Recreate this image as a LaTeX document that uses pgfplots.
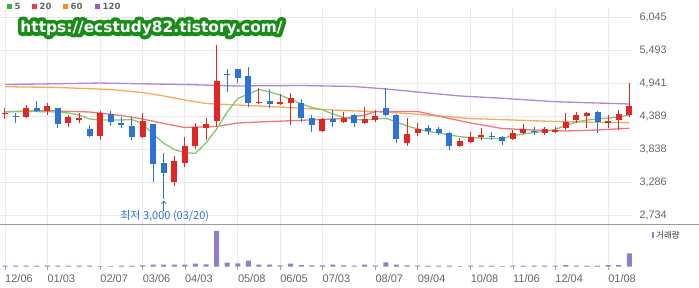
\documentclass[border=0pt]{standalone}
\usepackage{fontspec}
\setmainfont{Liberation Sans}
\newfontfamily\kr{Noto Sans CJK KR}
\newfontfamily\djv{DejaVu Sans}
\newfontfamily\wmfat{DejaVu Sans Bold}[FakeBold=50]
\newfontfamily\wmfont{DejaVu Sans Bold}
\usepackage{pgfplots}
\usepackage{pgfplotstable}
\pgfplotsset{compat=1.18}
\usetikzlibrary{arrows.meta,calc}

\definecolor{cup}{RGB}{226,38,38}
\definecolor{cdn}{RGB}{45,115,215}
\definecolor{ma5}{RGB}{130,200,110}
\definecolor{ma20}{RGB}{240,120,120}
\definecolor{ma60}{RGB}{247,170,90}
\definecolor{ma120}{RGB}{175,135,215}
\definecolor{vol}{RGB}{145,125,200}
\definecolor{gridc}{RGB}{234,234,234}
\definecolor{lbl}{RGB}{100,100,100}
\definecolor{wmg}{RGB}{25,140,25}
\definecolor{l5}{RGB}{60,176,67}
\definecolor{l20}{RGB}{232,64,64}
\definecolor{l60}{RGB}{240,144,30}
\definecolor{l120}{RGB}{155,89,208}

\pgfplotstableread{
i o h l c
0 4417 4523 4339 4444
2 4368 4573 4351 4528
4 4478 4602 4406 4557
6 4267 4406 4210 4378
7 4322 4434 4277 4361
9 4055 4478 3988 4444
13 4033 4434 4016 4311
16 3291 3720 3219 3642
17 3608 4043 3542 3888
18 3888 4277 3832 4200
19 4184 4351 3988 4256
20 4306 5576 4210 4980
24 4602 4852 4590 4628
26 4585 4757 4573 4615
27 4602 4769 4239 4695
30 4144 4351 4127 4339
32 4294 4461 4267 4361
34 4267 4545 4256 4334
35 4322 4490 4294 4389
38 3943 4351 3888 4088
39 4100 4267 4055 4167
43 3888 4016 3876 3971
44 3950 4127 3933 4043
45 4033 4184 3988 4072
48 4005 4155 3988 4110
49 4100 4256 4088 4167
51 4100 4210 4072 4167
52 4122 4210 4100 4155
53 4184 4434 4155 4294
54 4322 4461 4267 4406
55 4394 4450 4184 4444
57 4277 4406 4184 4311
58 4322 4490 4155 4423
59 4406 4936 4368 4557
}\up

\pgfplotstableread{
i o h l c
1 4395 4444 4267 4385
3 4528 4640 4461 4473
5 4528 4530 4184 4251
8 4172 4239 4033 4055
10 4423 4478 4222 4294
11 4267 4378 4184 4239
12 4222 4378 3988 4033
14 4256 4260 3291 3587
15 3598 3776 3000 3441
21 5087 5170 4796 5070
22 5175 5180 4936 5030
23 5058 5214 4545 4602
25 4645 4836 4518 4585
28 4602 4668 4294 4351
29 4351 4406 4127 4239
31 4339 4490 4200 4284
33 4406 4423 4200 4267
36 4528 4852 4389 4406
37 4406 4423 3943 4000
40 4184 4239 4072 4144
41 4167 4200 4072 4100
42 4110 4115 3821 3888
46 4055 4127 3988 4040
47 4043 4055 3904 3976
50 4144 4210 4072 4117
56 4461 4465 4110 4294
}\down

\pgfplotstableread{
i v
0 4461
2 4465
4 4461
5 4456
6 4439
7 4406
8 4339
9 4322
10 4322
11 4322
12 4331
13 4256
14 4088
15 3933
16 3829
17 3776
18 3765
19 3938
20 4172
21 4456
22 4682
23 4757
24 4832
25 4791
26 4740
27 4665
28 4590
29 4532
30 4490
31 4423
32 4364
33 4331
34 4322
35 4339
36 4351
37 4289
38 4222
39 4172
40 4130
41 4105
42 4072
43 4043
44 4030
45 4021
46 4013
47 4013
48 4063
49 4088
50 4113
51 4130
52 4164
53 4231
54 4289
55 4322
56 4339
57 4356
58 4373
59 4406
}\mafive

\pgfplotstableread{
i v
0 4461
4 4478
8 4456
11 4398
13 4339
15 4264
17 4197
20 4214
22 4272
24 4289
28 4317
32 4348
34 4406
35 4465
39 4465
42 4348
44 4272
47 4180
50 4155
53 4138
56 4155
59 4184
}\matwenty

\pgfplotstableread{
i v
0 4879
5 4866
10 4832
13 4782
15 4724
17 4657
19 4598
22 4573
25 4548
28 4518
32 4481
35 4461
38 4431
41 4389
44 4347
48 4322
52 4297
56 4284
59 4277
}\masixty

\pgfplotstableread{
i v
0 4915
9 4940
17 4915
22 4891
28 4899
33 4882
36 4841
39 4790
43 4724
47 4685
52 4628
59 4590
}\maonetwenty

\pgfplotstableread{
i v
0 3
1 3
2 3
3 3
4 3
5 3
6 3
7 3
8 3
9 2
10 2
11 3
12 3
13 4
14 6
15 6
16 6
17 6
18 9
19 7
20 107
21 12
22 10
23 18
24 6
25 6
26 4
27 9
28 5
29 4
30 4
31 6
32 4
33 3
34 6
35 3
36 13
37 6
38 4
39 3
40 3
41 3
42 3
43 2
44 3
45 3
46 3
47 2
48 3
49 3
50 3
51 3
52 3
53 5
54 3
55 3
56 3
57 5
58 5
59 40
}\vols

\begin{document}
\begin{tikzpicture}
\path[use as bounding box] (0pt,0pt) rectangle (699pt,288pt);

\begin{axis}[at={(0pt,64pt)}, anchor=south west, scale only axis,
  width=632pt, height=216pt,
  xmin=-0.4726, xmax=59.26, ymin=2583.5, ymax=6195,
  axis line style={draw=none}, tick style={draw=none},
  xtick={0,4,9,13,17,22,26,30,35,39,44,48,52,57}, xticklabels={},
  ytick={2734,3286,3838,4389,4941,5493,6045},
  ymajorgrids, xmajorgrids, grid style={gridc, line width=0.8pt},
  yticklabel pos=right,
  yticklabel style={font=\fontsize{10.8}{12}\selectfont, text=lbl, anchor=west, xshift=4pt},
  /pgf/number format/1000 sep={,},
  /pgf/number format/assume math mode=true,
]
\addplot[ma120, line width=1.3pt] table[x=i,y=v]{\maonetwenty};
\addplot[ma60, line width=1.3pt] table[x=i,y=v]{\masixty};
\addplot[ma20, line width=1.3pt] table[x=i,y=v]{\matwenty};
\addplot[ma5, line width=1.3pt] table[x=i,y=v]{\mafive};
% wicks
\addplot[draw=none, mark=none, forget plot, error bars/.cd, y dir=plus, y explicit, error mark=none,
  error bar style={draw=cup, line width=1pt}] table[x=i, y=l, y error expr=\thisrow{h}-\thisrow{l}] {\up};
\addplot[draw=none, mark=none, forget plot, error bars/.cd, y dir=plus, y explicit, error mark=none,
  error bar style={draw=cdn, line width=1pt}] table[x=i, y=l, y error expr=\thisrow{h}-\thisrow{l}] {\down};
% bodies
\addplot[draw=none, mark=none, forget plot, error bars/.cd, y dir=plus, y explicit, error mark=none,
  error bar style={draw=cup, line width=6pt}] table[x=i, y=o, y error expr=\thisrow{c}-\thisrow{o}] {\up};
\addplot[draw=none, mark=none, forget plot, error bars/.cd, y dir=plus, y explicit, error mark=none,
  error bar style={draw=cdn, line width=6pt}] table[x=i, y=c, y error expr=\thisrow{o}-\thisrow{c}] {\down};
\draw[cdn, line width=0.8pt, -{Straight Barb[length=2.5pt, width=5pt]}] (axis cs:15,2801) -- (axis cs:15,2975);
\node[font=\kr\fontsize{11}{12}\selectfont, text=cdn] at (axis cs:15.1,2717) {최저 3,000 (03/20)};
\end{axis}

\begin{axis}[at={(0pt,21.3pt)}, anchor=south west, scale only axis,
  width=632pt, height=41.7pt,
  xmin=-0.4726, xmax=59.26, ymin=0, ymax=125,
  axis line style={draw=none}, ytick=\empty,
  xtick={0,4,9,13,17,22,26,30,35,39,44,48,52,57},
  xticklabels={12/06,01/03,02/07,03/06,04/03,05/08,06/05,07/03,08/07,09/04,10/08,11/06,12/04,01/08},
  xmajorgrids, grid style={gridc, line width=0.8pt},
  tick align=outside, major tick length=3pt, tick style={gray!70, line width=0.6pt},
  xtick pos=bottom,
  xticklabel style={font=\fontsize{11}{12}\selectfont, text=lbl, anchor=north west, xshift=-3.3pt, yshift=-1pt},
]
\addplot[ybar, bar width=5pt, fill=vol, draw=none] table[x=i,y=v]{\vols};
\end{axis}

\draw[gray!80, line width=0.8pt] (0pt,64pt) -- (699pt,64pt);

% legend
\fill[l5] (7pt,279pt) rectangle (12pt,284pt);
\node[anchor=west, inner sep=0pt, font=\djv\bfseries\fontsize{8.5}{10}\selectfont, text=lbl] at (14.5pt,281.5pt) {5};
\fill[l20] (32pt,279pt) rectangle (37pt,284pt);
\node[anchor=west, inner sep=0pt, font=\djv\bfseries\fontsize{8.5}{10}\selectfont, text=lbl] at (39.5pt,281.5pt) {20};
\fill[l60] (63pt,279pt) rectangle (68pt,284pt);
\node[anchor=west, inner sep=0pt, font=\djv\bfseries\fontsize{8.5}{10}\selectfont, text=lbl] at (70.5pt,281.5pt) {60};
\fill[l120] (95pt,279pt) rectangle (100pt,284pt);
\node[anchor=west, inner sep=0pt, font=\djv\bfseries\fontsize{8.5}{10}\selectfont, text=lbl] at (102.5pt,281.5pt) {120};

% volume legend
\fill[vol] (651.7pt,50pt) rectangle (654pt,55.5pt);
\node[anchor=west, inner sep=0pt, font=\kr\fontsize{8.5}{10}\selectfont, text=black!80] at (656pt,52.5pt) {거래량};

% watermark: fattened green copy under a white copy
\node[inner sep=0pt, text=wmg] at (151.5pt,260pt) {\special{pdf:literal direct 1 j}\resizebox{262pt}{!}{\wmfat https://ecstudy82.tistory.com/}};
\node[inner sep=0pt, text=white] at (151.5pt,260pt) {\resizebox{262pt}{!}{\wmfont https://ecstudy82.tistory.com/}};
\end{tikzpicture}
\end{document}
